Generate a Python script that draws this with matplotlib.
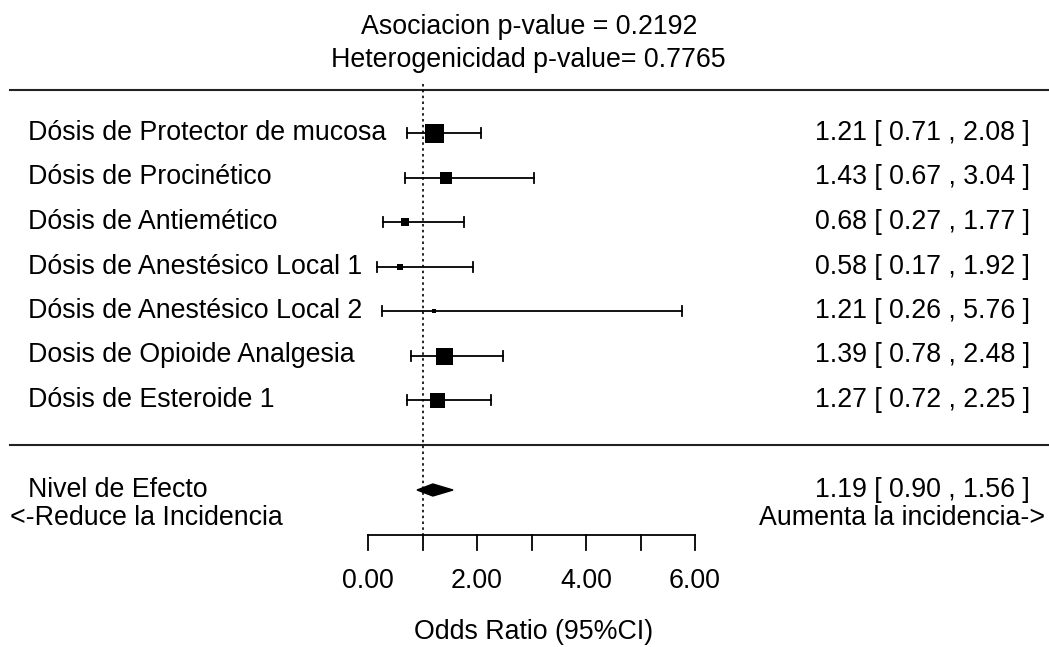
import matplotlib.pyplot as plt
import numpy as np
from matplotlib.patches import Polygon

plt.rcParams['font.family'] = ['Liberation Sans', 'DejaVu Sans']

# datos del forest plot
labels = ['Dósis de Protector de mucosa', 'Dósis de Procinético', 'Dósis de Antiemético',
          'Dósis de Anestésico Local 1', 'Dósis de Anestésico Local 2',
          'Dosis de Opioide Analgesia', 'Dósis de Esteroide 1']
odds = [1.21, 1.43, 0.68, 0.58, 1.21, 1.39, 1.27]
lower = [0.71, 0.67, 0.27, 0.17, 0.26, 0.78, 0.72]
upper = [2.08, 3.04, 1.77, 1.92, 5.76, 2.48, 2.25]
box_px = [19, 12, 8, 6, 5, 17, 15]  # tamaño del cuadrado (peso)

sum_label = 'Nivel de Efecto'
sum_or, sum_lo, sum_hi = 1.19, 0.90, 1.56
ticks = [0, 1, 2, 3, 4, 5, 6]
tick_labels = ['0.00', '', '2.00', '', '4.00', '', '6.00']

W, H = 1049, 647
x0_px, px_per = 368, 54.5
fig = plt.figure(figsize=(W / 100, H / 100), dpi=100)
ax = fig.add_axes([0, 0, 1, 1])
ax.set_xlim(-x0_px / px_per, (W - x0_px) / px_per)
ax.set_ylim(H, 0)
ax.axis('off')

fs = 19.3
row_y = 133 + 44.5 * np.arange(len(labels))
px = 1 / px_per  # un pixel en unidades x

# titulo
ax.text(2.95, 27, 'Asociacion p-value = 0.2192', ha='center', va='center', fontsize=fs)
ax.text(2.95, 60, 'Heterogenicidad p-value= 0.7765', ha='center', va='center', fontsize=fs)

# lineas horizontales
xl, xr = ax.get_xlim()
ax.plot([xl + 10 * px, xr], [90, 90], color='#222222', lw=1.5)
ax.plot([xl + 10 * px, xr], [445, 445], color='#222222', lw=1.5)

# linea de referencia
ax.plot([1, 1], [84, 535], color='black', lw=1.2, ls=(0, (1.5, 2)))

for i, (lab, o, lo, hi, b) in enumerate(zip(labels, odds, lower, upper, box_px)):
    y = row_y[i]
    ax.plot([lo, hi], [y, y], color='black', lw=1.3)
    ax.plot([lo, lo], [y - 5, y + 5], color='black', lw=1.3)
    ax.plot([hi, hi], [y - 5, y + 5], color='black', lw=1.3)
    ax.scatter([o], [y], marker='s', s=(b * 0.72) ** 2, color='black', zorder=3, linewidths=0)
    ax.text(xl + 28 * px, y, lab, ha='left', va='center', fontsize=fs)
    ax.text(xr - 19 * px, y, f'{o:.2f} [ {lo:.2f} , {hi:.2f} ]', ha='right', va='center', fontsize=fs)

# diamante resumen
ys = 490
ax.add_patch(Polygon([[sum_lo, ys], [sum_or, ys - 6], [sum_hi, ys], [sum_or, ys + 6]],
                     closed=True, color='black'))
ax.text(xl + 28 * px, ys, sum_label, ha='left', va='center', fontsize=fs)
ax.text(xr - 19 * px, ys, f'{sum_or:.2f} [ {sum_lo:.2f} , {sum_hi:.2f} ]', ha='right', va='center', fontsize=fs)
ax.text(xl + 10 * px, 518, '<-Reduce la Incidencia', ha='left', va='center', fontsize=fs)
ax.text(xr - 4 * px, 518, 'Aumenta la incidencia->', ha='right', va='center', fontsize=fs)

# eje x
ax.plot([ticks[0], ticks[-1]], [535, 535], color='black', lw=1.3)
for t, tl in zip(ticks, tick_labels):
    ax.plot([t, t], [535, 550], color='black', lw=1.3)
    if tl:
        ax.text(t, 581, tl, ha='center', va='center', fontsize=fs)
ax.text(3.03, 632, 'Odds Ratio (95%CI)', ha='center', va='center', fontsize=fs)

fig.savefig('out.png', dpi=100)
